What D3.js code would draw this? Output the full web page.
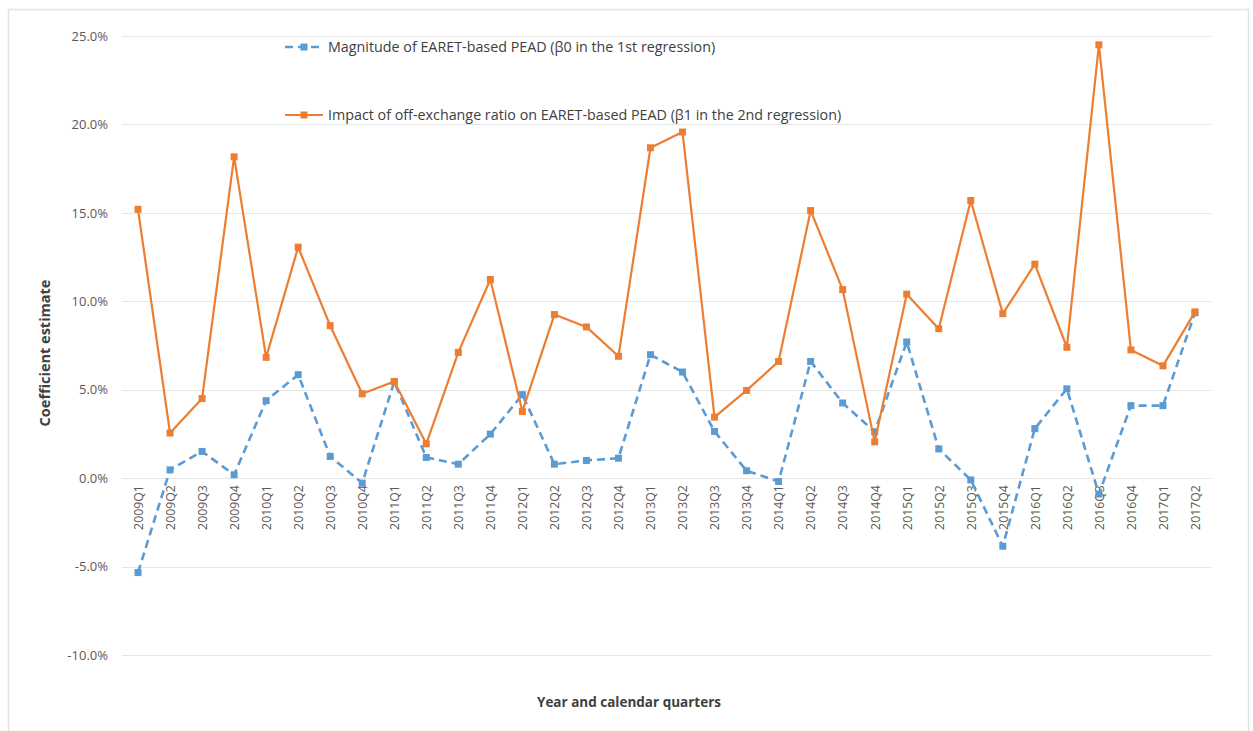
<!DOCTYPE html>
<html>
<head>
<meta charset="utf-8">
<script src="https://cdn.jsdelivr.net/npm/d3@7"></script>
<style>
  html, body { margin: 0; padding: 0; background: #fff; }
  svg { display: block; }
  text { font-family: "Open Sans", "Liberation Sans", Arial, sans-serif; }
</style>
</head>
<body>
<svg id="chart" width="1253" height="731"></svg>
<script>
const categories = ["2009Q1","2009Q2","2009Q3","2009Q4","2010Q1","2010Q2","2010Q3","2010Q4",
  "2011Q1","2011Q2","2011Q3","2011Q4","2012Q1","2012Q2","2012Q3","2012Q4",
  "2013Q1","2013Q2","2013Q3","2013Q4","2014Q1","2014Q2","2014Q3","2014Q4",
  "2015Q1","2015Q2","2015Q3","2015Q4","2016Q1","2016Q2","2016Q3","2016Q4",
  "2017Q1","2017Q2"];
const beta0 = [-5.34, 0.47, 1.51, 0.19, 4.38, 5.85, 1.23, -0.28,
  5.45, 1.17, 0.79, 2.49, 4.72, 0.79, 1.0, 1.13,
  6.98, 6.0, 2.64, 0.42, -0.19, 6.6, 4.25, 2.62,
  7.7, 1.65, -0.1, -3.85, 2.8, 5.05, -0.9, 4.1,
  4.1, 9.35];
const beta1 = [15.2, 2.55, 4.5, 18.17, 6.83, 13.06, 8.62, 4.77,
  5.47, 1.94, 7.11, 11.23, 3.77, 9.25, 8.55, 6.89,
  18.68, 19.57, 3.45, 4.96, 6.6, 15.13, 10.66, 2.05,
  10.4, 8.45, 15.7, 9.3, 12.1, 7.4, 24.5, 7.25,
  6.35, 9.4];
const yTicks = [-10, -5, 0, 5, 10, 15, 20, 25];
const seriesNames = [
  "Magnitude of EARET-based PEAD (\u03B20 in the 1st regression)",
  "Impact of off-exchange ratio on EARET-based PEAD (\u03B21 in the 2nd regression)"
];
const blue = "#5B9BD5", orange = "#ED7D31";

const svg = d3.select("#chart");
// outer frame
svg.append("rect").attr("x", 8.5).attr("y", 9.5).attr("width", 1240).attr("height", 740)
  .attr("fill", "none").attr("stroke", "#e4e4e4").attr("stroke-width", 1.5);

const plotLeft = 122, plotRight = 1211, plotTop = 36, plotBottom = 655;
const x = d3.scalePoint().domain(categories).range([plotLeft, plotRight]).padding(0.5);
const y = d3.scaleLinear().domain([-10, 25]).range([plotBottom, plotTop]);

// gridlines
svg.append("g").selectAll("line").data(yTicks).join("line")
  .attr("x1", plotLeft).attr("x2", plotRight)
  .attr("y1", d => Math.round(y(d)) + 0.5).attr("y2", d => Math.round(y(d)) + 0.5)
  .attr("stroke", "#e6e6e6").attr("stroke-width", 1.2);

// y axis labels
const yAxis = d3.axisLeft(y).tickValues(yTicks).tickSize(0).tickPadding(0)
  .tickFormat(d => d.toFixed(1) + "%");
const gy = svg.append("g").attr("transform", `translate(108,0)`).call(yAxis);
gy.select(".domain").remove();
gy.selectAll("text").attr("fill", "#595959").attr("font-size", 13)
  .style("font-family", "'Open Sans', 'Liberation Sans', sans-serif");

// x axis labels (rotated)
const xAxis = d3.axisBottom(x).tickSize(0).tickPadding(0);
const gx = svg.append("g").attr("transform", `translate(0,${y(0)})`).call(xAxis);
gx.select(".domain").remove();
gx.selectAll("text")
  .attr("fill", "#595959").attr("font-size", 12.3)
  .attr("transform", "rotate(-90)")
  .attr("text-anchor", "end")
  .attr("x", -7).attr("y", 0).attr("dy", "0.35em")
  .style("font-family", "'Open Sans', 'Liberation Sans', sans-serif");

// axis titles
svg.append("text").attr("transform", "translate(50,353) rotate(-90)")
  .attr("text-anchor", "middle").attr("font-size", 14.5).attr("font-weight", "bold")
  .attr("fill", "#404040").text("Coefficient estimate");
svg.append("text").attr("x", 629).attr("y", 707)
  .attr("text-anchor", "middle").attr("font-size", 13.5).attr("font-weight", "bold")
  .attr("fill", "#404040").text("Year and calendar quarters");

const line = d3.line().x((d, i) => x(categories[i])).y(d => y(d));

function drawSeries(vals, color, dashed) {
  const g = svg.append("g");
  g.append("path").datum(vals).attr("d", line).attr("fill", "none")
    .attr("stroke", color).attr("stroke-width", dashed ? 2.6 : 2.2)
    .attr("stroke-dasharray", dashed ? "8,5" : null)
    .attr("stroke-linejoin", "round");
  g.selectAll("rect").data(vals).join("rect")
    .attr("x", (d, i) => x(categories[i]) - 3.5).attr("y", d => y(d) - 3.5)
    .attr("width", 7).attr("height", 7).attr("fill", color);
}
drawSeries(beta0, blue, true);
drawSeries(beta1, orange, false);

// legend
const legend = [
  {name: seriesNames[0], color: blue, dashed: true, y: 47},
  {name: seriesNames[1], color: orange, dashed: false, y: 115}
];
legend.forEach(l => {
  svg.append("line").attr("x1", 285).attr("x2", 323).attr("y1", l.y).attr("y2", l.y)
    .attr("stroke", l.color).attr("stroke-width", l.dashed ? 2.6 : 2.2)
    .attr("stroke-dasharray", l.dashed ? "8,5" : null);
  svg.append("rect").attr("x", 300.5).attr("y", l.y - 3.5).attr("width", 7).attr("height", 7)
    .attr("fill", l.color);
  svg.append("text").attr("x", 328).attr("y", l.y).attr("dy", "0.35em")
    .attr("font-size", 14.3).attr("fill", "#404040").text(l.name);
});
</script>
</body>
</html>
